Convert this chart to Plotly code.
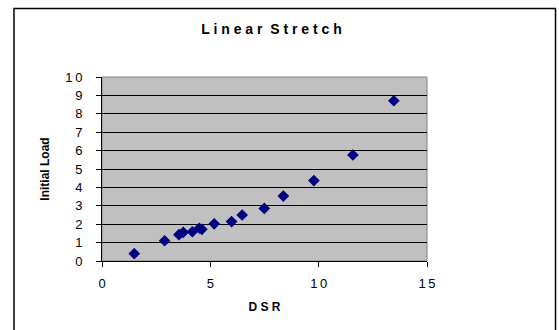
import plotly.graph_objects as go

dsr = [1.49, 2.89, 3.55, 3.75, 4.17, 4.49, 4.61, 5.18, 5.98, 6.47, 7.49, 8.37, 9.78, 11.58, 13.47]
initial_load = [0.40, 1.10, 1.43, 1.56, 1.59, 1.78, 1.72, 2.02, 2.14, 2.50, 2.86, 3.53, 4.37, 5.76, 8.71]

x_ticks = [0, 5, 10, 15]
y_ticks = list(range(0, 11))

W, H = 559, 330
L, R, T, B = 102, 132, 77, 69
pw, ph = W - L - R, H - T - B

def px(xp):
    return (xp - L) / pw

def py(yp):
    return (H - B - yp) / ph

def spaced(s):
    return "\u2009".join(str(s))

fig = go.Figure()
fig.add_trace(go.Scatter(
    x=dsr, y=initial_load, mode="markers",
    marker=dict(symbol="diamond", size=9, color="#000080", line=dict(width=0)),
    showlegend=False, cliponaxis=False,
))

font = "Liberation Sans, Arial, sans-serif"
fig.update_layout(
    width=W, height=H,
    margin=dict(l=L, r=R, t=T, b=B),
    paper_bgcolor="white",
    plot_bgcolor="#c0c0c0",
    font=dict(family=font, size=13, color="black"),
    title=dict(text="<b>L i n e a r  S t r e t c h</b>", xref="container", x=271.5 / W,
               xanchor="center", yref="container", y=1 - 29 / H, yanchor="middle",
               font=dict(size=14, family=font)),
    xaxis=dict(range=[0, 15], tickvals=x_ticks, ticktext=[spaced(v) for v in x_ticks],
               showgrid=False, zeroline=False, showline=True, linecolor="black", linewidth=1,
               ticks="outside", ticklen=5, tickcolor="black", tickfont=dict(size=13),
               ticklabelstandoff=5,
               title=dict(text="<b>D S R</b>", font=dict(size=12), standoff=13)),
    yaxis=dict(range=[0, 10], tickvals=y_ticks, ticktext=[spaced(v) for v in y_ticks],
               showgrid=True, gridcolor="#000000", gridwidth=1, zeroline=False,
               showline=True, linecolor="black", linewidth=1,
               ticks="outside", ticklen=5, tickcolor="black", tickfont=dict(size=13),
               ticklabelstandoff=11,
               title=dict(text="<b>Initial Load</b>", font=dict(size=12), standoff=13)),
    shapes=[
        dict(type="rect", xref="paper", yref="paper", x0=0, x1=1, y0=0, y1=1,
             line=dict(color="#808080", width=1), layer="below"),
        dict(type="rect", xref="paper", yref="paper",
             x0=px(14), x1=px(555.5), y0=py(345), y1=py(8.5),
             line=dict(color="black", width=1.5)),
    ],
)

fig.write_html("out.html")
